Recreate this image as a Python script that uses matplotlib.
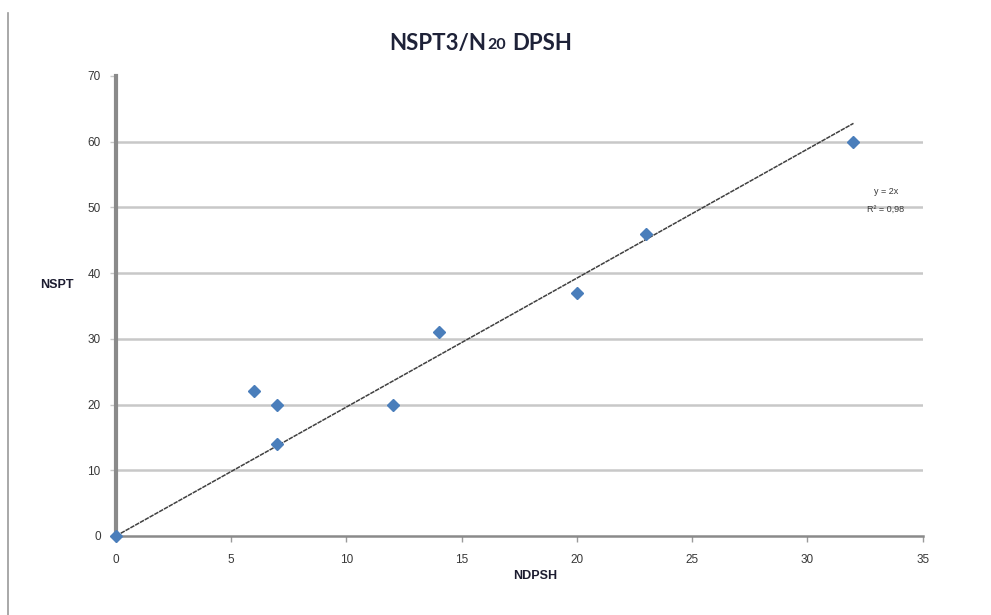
import numpy as np
import matplotlib.pyplot as plt
from matplotlib.lines import Line2D

# field test pairs: N DPSH blow count vs. N SPT blow count
n_dpsh = [0, 6, 7, 7, 12, 14, 20, 23, 32]
n_spt = [0, 22, 20, 14, 20, 31, 37, 46, 60]

x_ticks = [0, 5, 10, 15, 20, 25, 30, 35]
y_ticks = [0, 10, 20, 30, 40, 50, 60, 70]

x = np.array(n_dpsh, dtype=float)
y = np.array(n_spt, dtype=float)

# regression through the origin (excel style, uncentred R^2)
slope = (x * y).sum() / (x * x).sum()
r2 = 1 - ((y - slope * x) ** 2).sum() / (y ** 2).sum()

fig = plt.figure(figsize=(9.91, 6.15), dpi=100)
ax = fig.add_axes([0.117, 0.1285, 0.814, 0.748])

tick_font = dict(family="Liberation Sans", size=8.5, color="#383838")
label_font = dict(family="Liberation Sans", size=9, weight="bold", color="#1c1c30")

ax.set_xlim(0, 35)
ax.set_ylim(0, 70)
ax.set_xticks(x_ticks)
ax.set_yticks(y_ticks)
ax.set_xticklabels([str(t) for t in x_ticks], **tick_font)
ax.set_yticklabels([str(t) for t in y_ticks], **tick_font)

for t in y_ticks[1:-1]:
    ax.axhline(t, color="#c8c8c8", lw=1.8, zorder=1)

for side in ("top", "right"):
    ax.spines[side].set_visible(False)
ax.spines["left"].set_color("#8a8a8a")
ax.spines["left"].set_linewidth(3.0)
ax.spines["bottom"].set_color("#8a8a8a")
ax.spines["bottom"].set_linewidth(1.8)
ax.tick_params(axis="x", length=4, width=1, color="#9a9a9a", pad=9)
ax.tick_params(axis="y", length=4, width=1, color="#c8c8c8", pad=7)

# trend line
xs = np.array([0, max(n_dpsh)])
ax.plot(xs, slope * xs, color="#404040", lw=1.1, ls=(0, (3, 0.6)), zorder=3)

ax.plot(n_dpsh, n_spt, ls="none", marker="D", markersize=6.2,
        color="#4a7ebb", zorder=4, clip_on=False)

eq_font = dict(family="Liberation Sans", size=6.5, color="#383838", ha="center", va="center")
ax.text(33.4, 52.4, "y = 2x", **eq_font)
ax.text(33.4, 49.7, "R² = %s" % f"{r2:.2f}".replace(".", ","), **eq_font)

ax.set_xlabel("NDPSH", **label_font, labelpad=7)
ax.xaxis.set_label_coords(0.52, -0.075)
ax.set_ylabel("NSPT", **label_font, rotation=0, ha="center", va="center")
ax.yaxis.set_label_coords(-0.073, 0.545)

# title with the smaller "20" after N
title_font = dict(family=["Lato", "DejaVu Sans"], weight="bold", color="#1e2238")
t1 = fig.text(0.393, 0.918, "NSPT3/N", size=16, ha="left", va="baseline", **title_font)
t2 = ax.annotate("20", xy=(1, 0), xycoords=t1, xytext=(0.3, 1.4),
                 textcoords="offset points", size=11.5, ha="left", va="bottom",
                 annotation_clip=False, **title_font)
ax.annotate("DPSH", xy=(1, 0), xycoords=t2, xytext=(4.5, -1.4),
            textcoords="offset points", size=16, ha="left", va="bottom",
            annotation_clip=False, **title_font)

# page border on the left
fig.add_artist(Line2D([0.008, 0.008], [0.0, 0.979], transform=fig.transFigure,
                      color="#9a9a9a", lw=1.2))

fig.savefig("out.png", dpi=100)
